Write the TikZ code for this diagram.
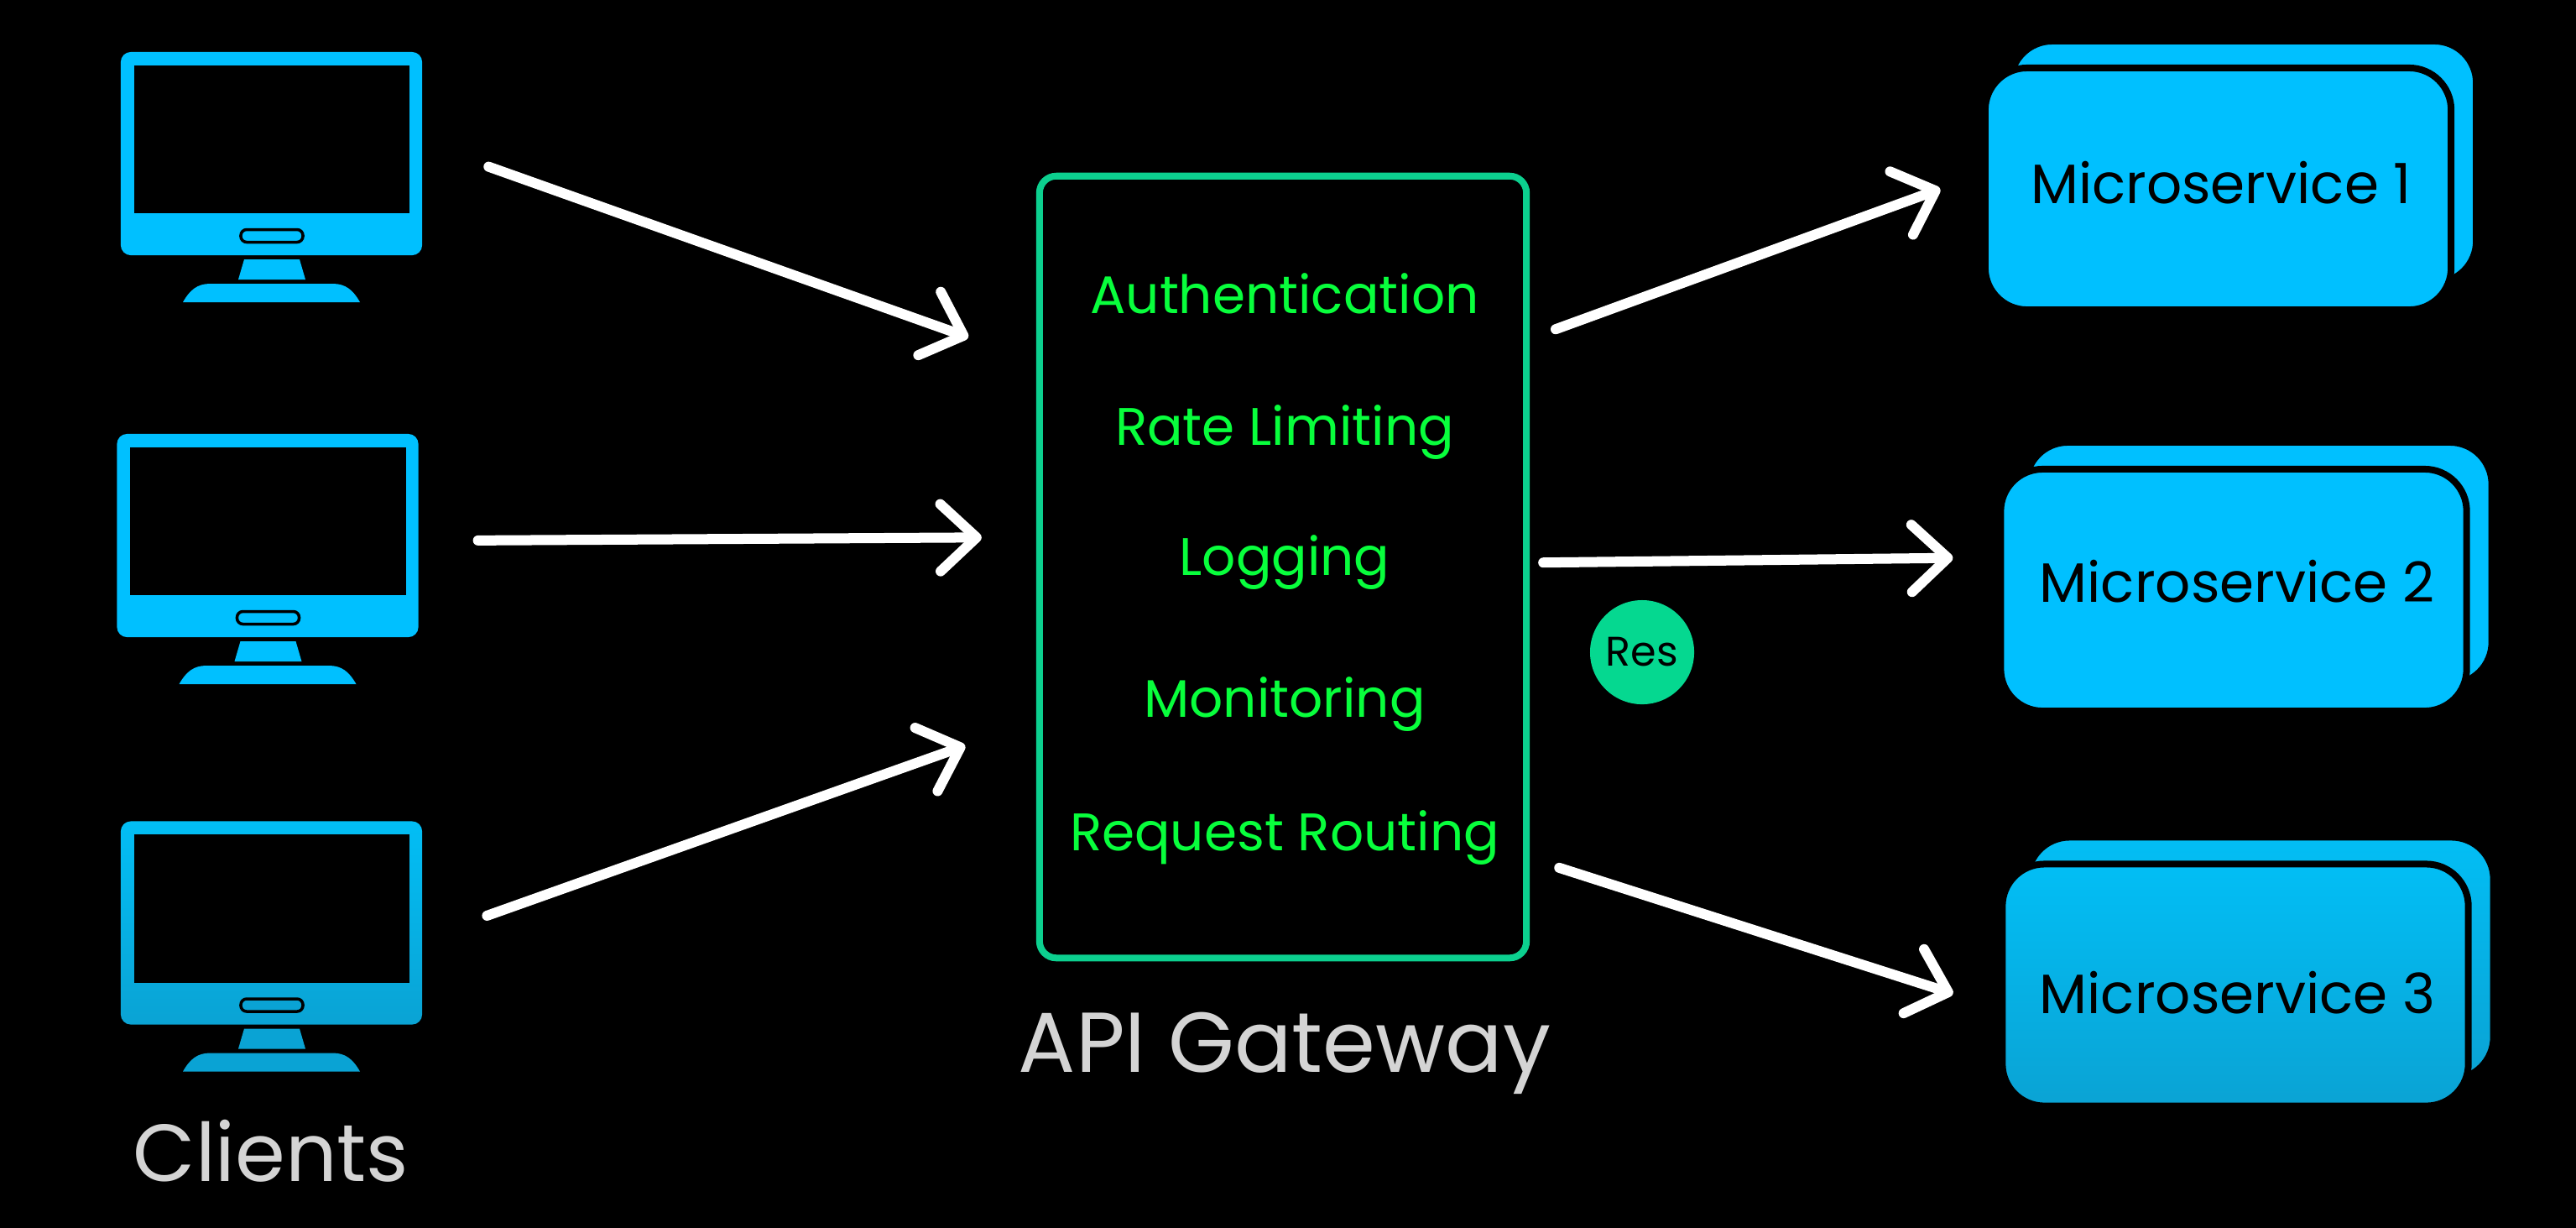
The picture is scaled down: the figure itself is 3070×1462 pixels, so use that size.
\documentclass[tikz,border=0pt]{standalone}
\usepackage{fontspec}
\setmainfont{Poppins}
\newfontfamily\resfont{Poppins}
\usepackage{tikz}
\usetikzlibrary{arrows.meta, positioning}
\definecolor{sky}{RGB}{0, 192, 255}
\definecolor{skydim}{RGB}{10, 163, 212}
\definecolor{skytop}{RGB}{2, 190, 245}
\definecolor{mint}{RGB}{12, 208, 143}
\definecolor{resmint}{RGB}{5, 216, 144}
\definecolor{lime}{RGB}{8, 255, 60}

\begin{document}
\begin{tikzpicture}[x=0.01cm, y=-0.01cm,
      monbody/.style={fill=sky},
      monfoot/.style={fill=sky},
      frame/.style={monbody, rounded corners=0.12cm, minimum width=3.59cm, minimum height=2.42cm, inner sep=0pt, outer sep=0pt},
      glass/.style={fill=black, minimum width=3.28cm, minimum height=1.76cm, inner sep=0pt, outer sep=0pt},
      slot/.style={monfoot, draw=black, line width=0.035cm, rounded corners=0.07cm, minimum width=0.74cm, minimum height=0.15cm, inner sep=0pt},
      monitor/.pic={
        \node[frame] (-frame) at (0,0) {};
        \node[glass] (-glass) at (0.5,-17) {};
        \node[slot] (-slot) at (0.5,98) {};
        \fill[monfoot] (-32.5,126) -- (33.5,126) -- (40.5,150) -- (-39.5,150) -- cycle;
        \fill[monfoot] (-105.5,177) .. controls (-97,162) and (-88,155) .. (-73,155) -- (73,155)
          .. controls (88,155) and (97,162) .. (105.5,177) -- cycle;
      },
      msbox/.style={fill=sky, draw=black, line width=0.08cm, rounded corners=0.5cm, minimum width=5.55cm, minimum height=2.88cm, inner sep=0pt, outer sep=0pt},
      mslabel/.style={anchor=base, text=black, font=\fontsize{18.8}{22}\selectfont},
      gate/.style={draw=mint, fill=black, line width=0.08cm, rounded corners=0.2cm, minimum width=5.8cm, minimum height=9.31cm, inner sep=0pt, outer sep=0pt},
      duty/.style={anchor=base, text=lime, font=\fontsize{17.9}{20}\selectfont},
      title/.style={anchor=base, text=black!17, font=\fontsize{27.4}{30}\selectfont},
      ar/.style={-{Straight Barb[length=0.43cm, width=0.8cm, round, line width=0.12cm]}, line width=0.12cm, line cap=round, color=white}]
      \useasboundingbox (0,0) rectangle (3070,1462);
      \fill[black] (-10,-10) rectangle (3080,1472);
      \pic (m1) at (323.5,183) {monitor};
      \pic (m2) at (319,638) {monitor};
      \pic[monbody/.style={top color=skytop, bottom color=skydim}, monfoot/.style={fill=skydim}] (m3) at (323.5,1099.5) {monitor};
      \node[title] (cl) at (323,1407) {Clients};
      \node[gate] (gw) at (1529,675.5) {};
      \node[duty] (d1) at (1531,373) {Authentication};
      \node[duty] (d2) at (1531,530) {Rate Limiting};
      \node[duty] (d3) at (1531,685) {Logging};
      \node[duty] (d4) at (1531,854) {Monitoring};
      \node[duty] (d5) at (1531,1013) {Request Routing};
      \node[title, font=\fontsize{28.8}{32}\selectfont] (gt) at (1531,1277) {API Gateway};
      \node[msbox] (s1b) at (2673.5,193) {};
      \node[msbox] (s1) at (2643.5,225) {};
      \node[mslabel] (t1) at (2647,242) {Microservice 1};
      \node[msbox] (s2b) at (2692,671) {};
      \node[msbox] (s2) at (2662,703) {};
      \node[mslabel] (t2) at (2666,717) {Microservice 2};
      \node[msbox, top color=skytop, bottom color=skydim] (s3b) at (2694,1141.5) {};
      \node[msbox, top color=skytop, bottom color=skydim] (s3) at (2664,1173.5) {};
      \node[mslabel] (t3) at (2666.5,1207) {Microservice 3};
      \node[circle, fill=resmint, minimum size=1.24cm, inner sep=0pt, text=black, font=\resfont\fontsize{14}{16}\selectfont] (res) at (1957,777) {Res};
      \draw[ar, shorten <=0.84cm, shorten >=0.90cm] (m1-frame.4.1) -- (gw.140.3);
      \draw[ar, shorten <=0.71cm, shorten >=0.69cm] (m2-frame.-2.2) -- (gw.173.7);
      \draw[ar, shorten <=0.82cm, shorten >=0.94cm] (m3-frame.-6.7) -- (gw.212.2);
      \draw[ar, shorten <=0.37cm, shorten >=0.57cm] (gw.43.3) -- (s1.176.5);
      \draw[ar, shorten <=0.20cm, shorten >=0.57cm] (gw.1) -- (s2.172.3);
      \draw[ar, shorten <=0.41cm, shorten >=0.617cm] (gw.-50.7) -- (s3.186.4);
    \end{tikzpicture}
\end{document}
